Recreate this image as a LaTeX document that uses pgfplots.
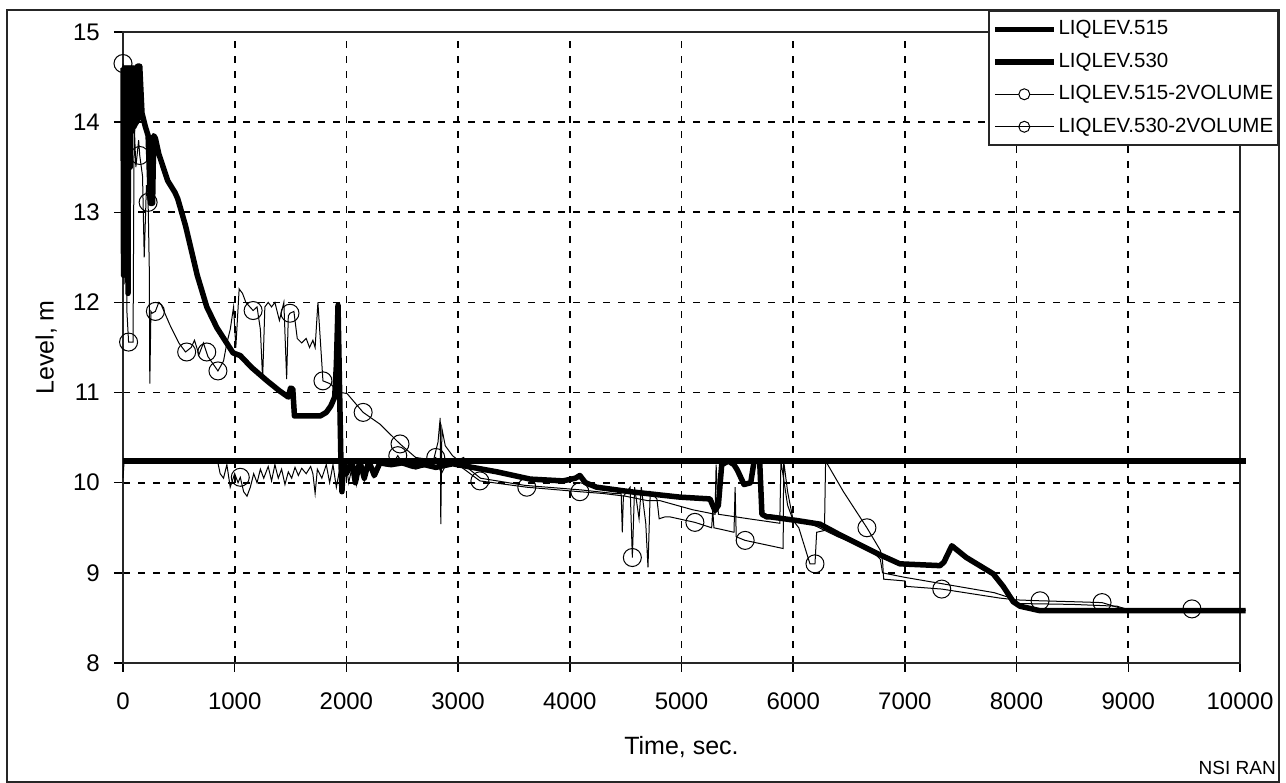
\documentclass[border=0pt]{standalone}
\usepackage{fontspec}
\setmainfont{Liberation Sans}
\usepackage{pgfplots}
\pgfplotsset{compat=1.18}
\usepackage{pgfplotstable}

\pgfplotstableread{
t v
0 14.6
5 12.3
10 14.6
15 13.9
20 14.6
25 12.9
30 14.6
35 13.9
40 14.6
45 12.1
50 14.6
55 13.9
60 14.6
65 13.5
70 14.6
75 13.9
80 14.6
85 13.9
90 14.6
100 13.95
110 14.6
120 14.0
130 14.62
150 14.62
170 14.1
200 13.95
225 13.85
245 13.1
265 13.1
275 13.85
290 13.82
320 13.65
400 13.35
465 13.22
490 13.15
560 12.85
665 12.3
750 11.95
840 11.72
985 11.44
1050 11.41
1150 11.28
1290 11.13
1400 11.02
1480 10.95
1500 11.05
1520 11.04
1535 10.74
1765 10.74
1820 10.78
1860 10.85
1895 10.95
1910 11.3
1925 11.97
1935 11.3
1950 10.3
1960 9.9
1975 10.24
2000 10.1
2050 10.24
2080 10.0
2120 10.24
2160 10.05
2200 10.24
2250 10.08
2300 10.22
2400 10.2
2500 10.22
2600 10.18
2700 10.2
2800 10.17
2950 10.21
3350 10.12
3645 10.04
3940 10.02
4050 10.05
4090 10.08
4140 10.0
4240 9.95
4540 9.9
4985 9.84
5255 9.82
5300 9.69
5330 9.75
5360 10.2
5420 10.24
5470 10.2
5500 10.14
5560 9.98
5620 10.0
5650 10.24
5700 10.24
5720 9.65
5765 9.62
5800 9.62
6035 9.58
6240 9.54
6420 9.42
6777 9.2
6955 9.1
7315 9.08
7350 9.12
7420 9.3
7470 9.25
7550 9.17
7790 8.99
7880 8.85
7970 8.68
8030 8.63
8210 8.58
10050 8.58
}\tableA

% dense start block of LIQLEV.515 (rapid oscillation between 13.9 and 14.65)
\pgfplotstableread{
t v
10 14.62
140 14.62
165 14.05
120 13.95
10 13.95
}\blockA

\pgfplotstableread{
t v
0 10.24
10050 10.24
}\tableB

\pgfplotstableread{
t v
0 14.65
10 12.2
20 14.3
35 11.9
50 11.56
90 11.56
100 14.0
115 13.5
140 13.8
150 13.63
175 13.4
190 12.5
210 13.3
225 13.11
235 12.4
240 11.1
250 11.9
260 11.88
290 11.9
320 12.0
340 11.98
420 11.75
500 11.55
560 11.45
610 11.5
640 11.58
680 11.42
720 11.55
760 11.4
850 11.24
900 11.35
930 11.55
960 11.7
990 11.95
1010 11.5
1040 12.15
1070 12.1
1100 12.0
1165 11.91
1200 11.95
1230 11.7
1250 11.15
1270 11.95
1300 12.0
1330 11.95
1360 12.0
1400 11.8
1440 12.0
1465 11.15
1480 11.85
1495 11.88
1530 11.9
1560 11.6
1600 11.55
1640 11.6
1670 11.5
1700 11.58
1720 11.5
1745 12.0
1790 11.13
1850 11.1
1950 11.0
2005 10.99
2150 10.78
2300 10.65
2480 10.43
2620 10.28
2780 10.25
2820 10.45
2840 10.72
2845 9.54
2855 10.6
2885 10.41
2950 10.3
3000 10.25
3050 10.28
3100 10.15
3200 10.05
3600 9.97
4100 9.92
4400 9.88
4460 9.88
4470 9.45
4480 9.85
4540 9.95
4560 9.17
4580 9.95
4620 9.6
4640 9.95
4680 9.55
4700 9.06
4720 9.9
4780 9.82
4800 9.6
4850 9.62
4900 9.62
5120 9.56
5270 9.5
5280 9.7
5290 9.5
5400 9.47
5470 9.45
5480 9.95
5490 9.4
5570 9.36
5910 9.27
5915 10.24
5950 9.9
6000 9.58
6050 9.5
6100 9.3
6150 9.1
6195 9.1
6210 9.45
6280 9.47
6290 10.24
6300 10.22
6450 9.9
6660 9.5
6780 9.25
6800 9.13
6810 8.93
7000 8.91
7010 8.85
7330 8.82
7850 8.72
8000 8.7
8210 8.69
8500 8.68
8765 8.67
8925 8.61
9000 8.6
10050 8.59
}\tableC

\pgfplotstableread{
t v
0 10.05
10 10.24
850 10.22
870 10.1
900 10.05
930 10.2
960 9.95
1000 10.1
1030 10.0
1050 10.06
1080 9.9
1110 9.85
1140 9.95
1170 10.1
1200 10.0
1230 10.15
1260 10.05
1300 10.18
1330 10.02
1360 10.2
1390 10.05
1420 10.15
1450 9.98
1480 10.12
1510 10.05
1540 10.17
1570 10.08
1600 10.16
1640 10.1
1680 10.18
1700 10.1
1720 9.88
1740 10.15
1780 10.05
1820 10.2
1850 10.0
1880 10.2
1910 9.95
1940 10.15
1970 9.92
2000 10.2
2020 10.0
2060 10.22
2090 9.98
2120 10.24
2160 10.02
2200 10.22
2240 10.06
2280 10.2
2400 10.18
2460 10.3
2500 10.22
2620 10.15
2700 10.18
2800 10.28
2850 10.1
2900 10.22
3000 10.2
3195 10.02
3615 9.95
4090 9.9
4300 9.88
4500 9.85
4700 9.8
4810 9.8
5100 9.7
5300 9.65
5310 10.2
5330 9.65
5600 9.6
5880 9.55
5890 10.24
5950 9.75
6000 9.58
6150 9.55
6400 9.4
6700 9.25
6780 9.15
6800 9.0
7000 8.95
7330 8.88
7800 8.78
7950 8.72
8000 8.66
8500 8.65
8900 8.63
9000 8.59
10050 8.58
}\tableD

\pgfplotstableread{
t v
0 14.65
50 11.56
150 13.63
225 13.11
290 11.9
570 11.45
750 11.45
850 11.24
1165 11.91
1495 11.88
1790 11.13
2150 10.78
2480 10.43
4560 9.17
5120 9.56
5570 9.36
6195 9.1
6660 9.5
7330 8.82
8210 8.69
8765 8.67
9570 8.6
}\marksC

\pgfplotstableread{
t v
1050 10.06
2460 10.3
2800 10.28
3195 10.02
3615 9.95
4090 9.9
}\marksD

\begin{document}
\begin{tikzpicture}
\useasboundingbox (0pt,0pt) rectangle (1286pt,783pt);
\draw[line width=1.8pt, black!85] (7pt,0.9pt) rectangle (1279pt,773pt);
\begin{axis}[
  at={(123pt,120pt)}, anchor=south west,
  scale only axis, width=1117pt, height=631pt,
  xmin=0, xmax=10000, ymin=8, ymax=15,
  xtick={0,1000,...,10000}, ytick={8,9,...,15},
  scaled ticks=false,
  /pgf/number format/set thousands separator={},
  /pgf/number format/assume math mode=true,
  xtick pos=bottom, ytick pos=left,
  tick align=outside, major tick length=9pt,
  every tick/.style={black, line width=1.5pt},
  axis line style={line width=1.7pt, black!85},
  grid=major,
  major grid style={black, line width=1.8pt, dash pattern=on 7pt off 8pt},
  xticklabel style={font=\fontsize{24}{28}\selectfont, anchor=north, inner sep=0pt, yshift=-21pt},
  yticklabel style={font=\fontsize{24}{28}\selectfont, anchor=east, inner sep=0pt, xshift=-14pt},
  xlabel={Time, sec.}, ylabel={Level, m},
  every axis x label/.style={at={(axis description cs:0.5,-0.1331)}, anchor=center, font=\fontsize{25}{30}\selectfont},
  every axis y label/.style={at={(axis description cs:-0.0689,0.5)}, anchor=center, rotate=90, font=\fontsize{25}{30}\selectfont},
  clip=false,
  legend style={at={(1.0349,1.0349)}, anchor=north east, draw=black!85, line width=1.6pt, fill=white,
    font=\fontsize{20.5}{24}\selectfont, inner xsep=3pt, inner ysep=7pt,
    row sep=9.5pt, nodes={inner sep=2pt, text height=15pt, text depth=4pt}},
  legend cell align=left,
  legend image code/.code={\draw[mark repeat=2, mark phase=2] plot coordinates {(0pt,0pt) (29.5pt,0pt) (59pt,0pt)};},
]
\addlegendimage{black, line width=5.5pt}
\addlegendentry{LIQLEV.515}
\addlegendimage{black, line width=5.5pt}
\addlegendentry{LIQLEV.530}
\addlegendimage{black, line width=1pt, mark=*, mark size=5.5pt, mark options={fill=white, line width=1pt}}
\addlegendentry{LIQLEV.515-2VOLUME}
\addlegendimage{black, line width=1pt, mark=o, mark size=5.5pt, mark options={line width=1pt}}
\addlegendentry{LIQLEV.530-2VOLUME}

\addplot[forget plot, black, line width=1pt] table[x=t, y=v] {\tableC};
\addplot[forget plot, black, line width=1pt] table[x=t, y=v] {\tableD};
\addplot[forget plot, black, line width=5.5pt, line join=round] table[x=t, y=v] {\tableB};
\addplot[forget plot, black, fill=black, line width=1pt] table[x=t, y=v] {\blockA} -- cycle;
\addplot[forget plot, black, line width=5.5pt, line join=round] table[x=t, y=v] {\tableA};
\addplot[forget plot, only marks, mark=o, mark size=9pt, mark options={black, line width=1pt}] table[x=t, y=v] {\marksC};
\addplot[forget plot, only marks, mark=o, mark size=9pt, mark options={black, line width=1pt}] table[x=t, y=v] {\marksD};
\end{axis}
\node[anchor=east, inner sep=0pt, font=\fontsize{19}{22}\selectfont] at (1276pt,15pt) {NSI RAN};
\end{tikzpicture}
\end{document}
